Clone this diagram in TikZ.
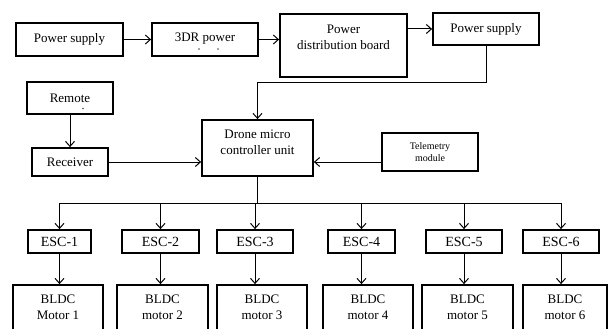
\documentclass[tikz,border=0pt]{standalone}
\usepackage{fontspec}
\setmainfont{Liberation Serif}
\usetikzlibrary{positioning,arrows.meta}

\begin{document}
\begin{tikzpicture}[
  x=1pt, y=-1pt,
  >={Straight Barb[length=5pt,width=9pt]},
  every node/.style={font=\fontsize{13}{16}\selectfont},
  block/.style={rectangle, draw, line width=1.8pt, inner sep=0pt, align=center},
  wire/.style={line width=1pt, ->},
  speck/.style={circle, fill=black!70, inner sep=0pt, minimum size=1.6pt}
  ]
\clip (0,0) rectangle (608,329);

\node[block, minimum width=107pt, minimum height=33pt] (ps1) at (69.5,39.5) {Power supply};
\node[block, minimum width=106pt, minimum height=33pt] (dr3) at (205,39.5) {3DR power\\[-12pt]~};
\node[speck] (dr3a) at (199,49) {};
\node[speck] (dr3b) at (218,49) {};
\node[block, minimum width=127pt, minimum height=63pt] (pdb) at (343.5,45.5) {Power\\distribution board\\~};
\node[block, minimum width=106pt, minimum height=32pt] (ps2) at (486,29) {Power supply};

\node[block, minimum width=86pt, minimum height=32pt] (rem) at (70,98) {Remote};
\node[speck] (remdot) at (83,108.5) {};
\node[block, minimum width=76pt, minimum height=28pt] (rx) at (70,162) {Receiver};
\node[block, minimum width=111pt, minimum height=56pt] (mcu) at (257.5,148) {Drone micro\\controller unit\\[-4pt]~};
\node[block, minimum width=96pt, minimum height=38pt, font=\fontsize{10}{12}\selectfont] (tel) at (430,152) {Telemetry\\module};

\foreach \i/\x/\w in {1/59.5/63, 2/160.5/77, 3/255/76, 4/361.5/67, 5/464/76, 6/561/76}
  \node[block, minimum width=\w pt, minimum height=23pt, font=\fontsize{14}{16}\selectfont] (esc\i) at (\x,241.5) {ESC-\i};
\foreach \i/\x/\w/\m in {1/58/90/Motor, 2/162.5/91/motor, 3/262/90/motor, 4/368/90/motor, 5/467.5/91/motor, 6/565/84/motor}
  \node[block, minimum width=\w pt, minimum height=60pt] (bldc\i) at (\x,315) {BLDC\\\m\ \i\\~};

\draw[wire] (ps1) -- (dr3);
\draw[wire] (dr3.east) -- (dr3.east -| pdb.west);
\draw[wire] (pdb.east |- ps2.west) -- (ps2.west);
\draw[wire] (ps2.south) -- ++(0,37) -| (mcu.north);
\draw[wire] (rem) -- (rx);
\draw[wire] (rx.east) -- (rx.east -| mcu.west);
\draw[wire] (tel.west |- rx.east) -- (mcu.east |- rx.east);
\draw[line width=1pt] (mcu.south) -- ++(0,27) coordinate (bus);
\foreach \i in {1,...,6} {
  \draw[wire] (bus) -| (esc\i.north);
  \draw[wire] (esc\i.south) -- (esc\i.south |- bldc\i.north);
}

\end{tikzpicture}
\end{document}
